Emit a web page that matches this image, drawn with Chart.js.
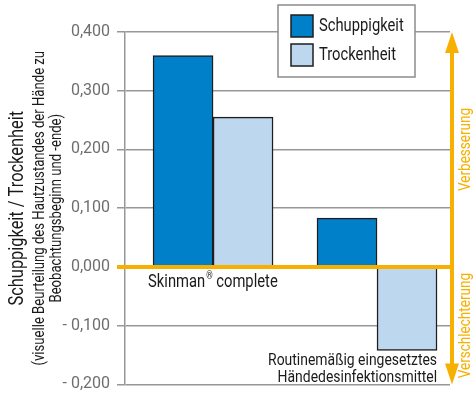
<!DOCTYPE html>
<html>
<head>
<meta charset="utf-8">
<script src="https://cdn.jsdelivr.net/npm/chart.js@4"></script>
<style>
    body { margin: 0; background: #fff; }
    #wrap { width: 476px; height: 401px; }
</style>
</head>
<body>
<div id="wrap"><canvas id="chart"></canvas></div>
<script>
const categories = ['Skinman® complete', ['Routinemäßig eingesetztes', 'Händedesinfektionsmittel']];
const seriesNames = ['Schuppigkeit', 'Trockenheit'];
const schuppigkeit = [0.360, 0.083];
const trockenheit = [0.255, -0.142];
const yMin = -0.2;
const yMax = 0.4;
const yStep = 0.1;
const yTitle = 'Schuppigkeit / Trockenheit';
const ySubtitle = ['(visuelle Beurteilung des Hautzustandes der Hände zu', 'Beobachtungsbeginn und -ende)'];
const upLabel = 'Verbesserung';
const downLabel = 'Verschlechterung';

const FONT = 'Roboto, "Noto Sans", sans-serif';
const SQUEEZE = 0.82; // the original uses a narrow DIN-like face
const ORANGE = '#f7b000';
const DARK_BLUE = '#0080c8';
const LIGHT_BLUE = '#bdd7ef';
const INK = '#1a1a1a';

function fmt(v) {
    const s = Math.abs(v).toFixed(3).replace('.', ',');
    return v < -1e-9 ? '- ' + s : s;
}

// draws narrowed text, returns its drawn width
function drawText(ctx, str, x, y, size, align) {
    ctx.save();
    ctx.font = size + 'px ' + FONT;
    const w = ctx.measureText(str).width * SQUEEZE;
    ctx.translate(x, y);
    ctx.scale(SQUEEZE, 1);
    ctx.textAlign = align;
    ctx.fillText(str, 0, 0);
    ctx.restore();
    return w;
}

const overlay = {
    id: 'overlay',
    afterDatasetsDraw(chart) {
        const ctx = chart.ctx;
        const area = chart.chartArea;
        const y = chart.scales.y;
        const zero = y.getPixelForValue(0);
        const arrowX = area.right + 2;

        ctx.save();
        ctx.textBaseline = 'middle';

        // orange zero line
        ctx.strokeStyle = ORANGE;
        ctx.lineWidth = 4;
        ctx.beginPath();
        ctx.moveTo(area.left - 8, zero);
        ctx.lineTo(arrowX + 2, zero);
        ctx.stroke();

        // double arrow on the right
        const top = y.getPixelForValue(yMax);
        const bottom = y.getPixelForValue(yMin);
        ctx.beginPath();
        ctx.moveTo(arrowX, top + 18);
        ctx.lineTo(arrowX, bottom - 18);
        ctx.stroke();
        ctx.fillStyle = ORANGE;
        ctx.beginPath();
        ctx.moveTo(arrowX, top);
        ctx.lineTo(arrowX - 7, top + 21);
        ctx.lineTo(arrowX + 7, top + 21);
        ctx.closePath();
        ctx.fill();
        ctx.beginPath();
        ctx.moveTo(arrowX, bottom);
        ctx.lineTo(arrowX - 7, bottom - 21);
        ctx.lineTo(arrowX + 7, bottom - 21);
        ctx.closePath();
        ctx.fill();

        ctx.save();
        ctx.translate(arrowX + 14, (top + zero) / 2);
        ctx.rotate(-Math.PI / 2);
        drawText(ctx, upLabel, 0, 0, 16.5, 'center');
        ctx.restore();
        ctx.save();
        ctx.translate(arrowX + 14, (zero + bottom) / 2);
        ctx.rotate(-Math.PI / 2);
        drawText(ctx, downLabel, 0, 0, 16.5, 'center');
        ctx.restore();

        // category labels next to the bars
        ctx.fillStyle = INK;
        const b0 = chart.getDatasetMeta(0).data[0];
        const parts = categories[0].split('®');
        let lx = b0.x - b0.width / 2 - 5;
        lx += drawText(ctx, parts[0], lx, zero + 16, 18, 'left');
        lx += drawText(ctx, '®', lx + 1, zero + 10, 10, 'left') + 1;
        drawText(ctx, parts[1], lx, zero + 16, 18, 'left');

        const b1 = chart.getDatasetMeta(1).data[1];
        categories[1].forEach((line, i) => {
            drawText(ctx, line, b1.x + b1.width / 2, b1.y + 10 + i * 17, 17, 'right');
        });

        // y-axis titles
        const midY = (area.top + area.bottom) / 2;
        ctx.save();
        ctx.translate(18, midY);
        ctx.rotate(-Math.PI / 2);
        drawText(ctx, yTitle, 0, 0, 20, 'center');
        drawText(ctx, ySubtitle[0], 0, 22, 16, 'center');
        drawText(ctx, ySubtitle[1], 0, 39, 16, 'center');
        ctx.restore();

        // legend box
        ctx.fillStyle = '#fff';
        ctx.fillRect(278, 5, 137, 72);
        ctx.strokeStyle = '#8c8c8c';
        ctx.lineWidth = 1.5;
        ctx.strokeRect(278, 5, 137, 72);
        chart.data.datasets.forEach((ds, i) => {
            const sy = 15 + i * 29;
            ctx.fillStyle = ds.backgroundColor;
            ctx.fillRect(291, sy, 22, 22);
            ctx.strokeStyle = '#1e1e1e';
            ctx.strokeRect(291, sy, 22, 22);
            ctx.fillStyle = INK;
            drawText(ctx, ds.label, 319, sy + 11, 18, 'left');
        });
        ctx.restore();
    }
};

new Chart(document.getElementById('chart'), {
    type: 'bar',
    data: {
        labels: categories,
        datasets: [
            {
                label: seriesNames[0],
                data: schuppigkeit,
                backgroundColor: DARK_BLUE,
                borderColor: '#1e1e1e',
                borderWidth: 1.5,
                barThickness: 60
            },
            {
                label: seriesNames[1],
                data: trockenheit,
                backgroundColor: LIGHT_BLUE,
                borderColor: '#1e1e1e',
                borderWidth: 1.5,
                barThickness: 60
            }
        ]
    },
    options: {
        responsive: true,
        maintainAspectRatio: false,
        animation: false,
        layout: { padding: { top: 32, right: 26, bottom: 9, left: 0 } },
        plugins: {
            legend: { display: false },
            tooltip: { enabled: false }
        },
        scales: {
            x: {
                display: false,
                offset: true,
                afterBuildTicks(scale) {
                    // shift the two groups to where they sit in the original
                    scale._startValue = -0.537;
                    scale._valueRange = 1.982;
                }
            },
            y: {
                min: yMin,
                max: yMax,
                afterFit(scale) { scale.width = 125; },
                ticks: {
                    stepSize: yStep,
                    padding: 7,
                    color: '#6e6e6e',
                    font: { family: FONT, size: 16 },
                    callback: v => fmt(v)
                },
                grid: {
                    color: '#979797',
                    lineWidth: 1.5,
                    tickLength: 8
                },
                border: { color: '#979797', width: 1.5 }
            }
        }
    },
    plugins: [overlay]
});
</script>
</body>
</html>
